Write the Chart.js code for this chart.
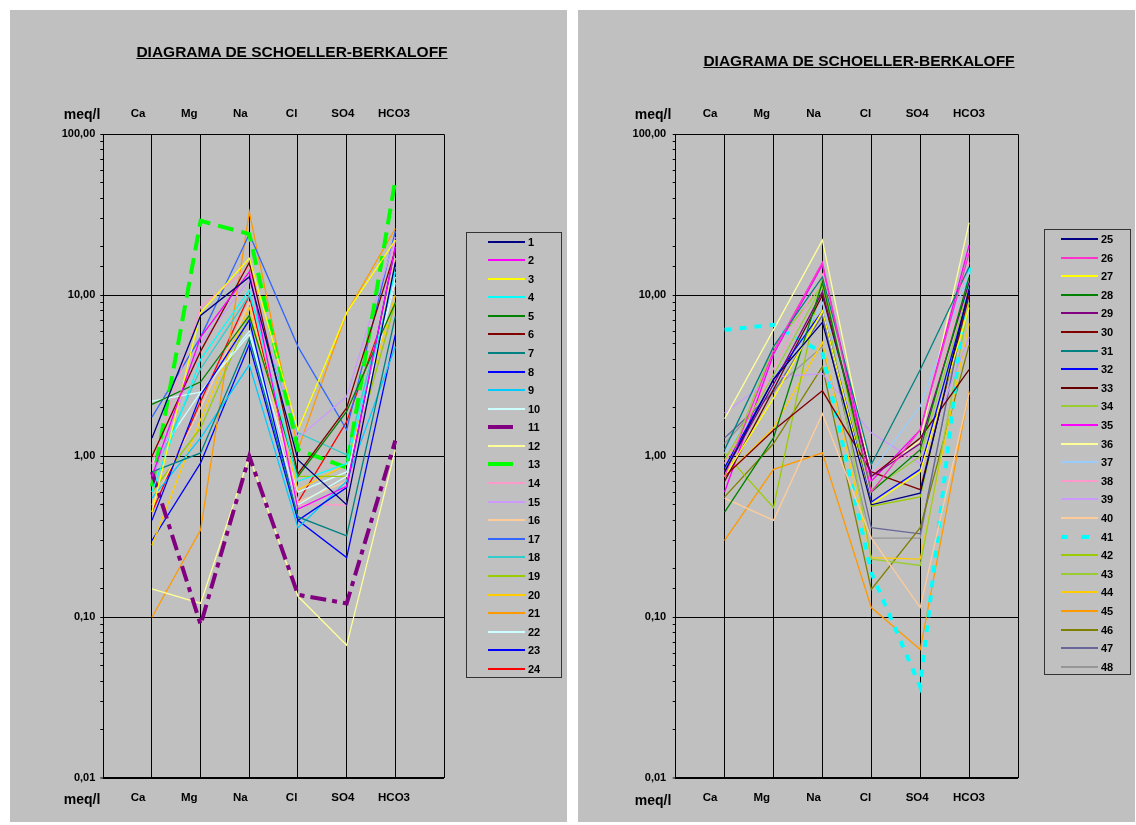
<!DOCTYPE html>
<html><head><meta charset="utf-8">
<script src="https://cdn.jsdelivr.net/npm/chart.js@4.4.1/dist/chart.umd.min.js"></script>
<style>
body{margin:0;background:#fff;width:1136px;height:825px;position:relative;overflow:hidden;font-family:"Liberation Sans",Arial,sans-serif;color:#000;}
.panel{position:absolute;background:#c0c0c0;}
canvas{position:absolute;}
.title{position:absolute;font-weight:bold;font-size:15.5px;line-height:18px;text-decoration:underline;white-space:nowrap;transform:translate(-50%,-50%);}
.unit{position:absolute;font-weight:bold;font-size:14px;line-height:14px;white-space:nowrap;transform:translate(-50%,-50%);}
.legend{position:absolute;border:1px solid #333;box-sizing:border-box;}
.lg-line{position:absolute;}
.lg-text{position:absolute;font-weight:bold;font-size:11px;line-height:12px;transform:translateY(-50%);}
</style>
</head><body>
<div class="panel" style="left:10px;top:10px;width:557px;height:812px;"></div>
<div class="panel" style="left:578px;top:10px;width:557px;height:812px;"></div>
<canvas id="cL" width="557" height="812" style="left:10px;top:10px;"></canvas>
<canvas id="cR" width="556" height="812" style="left:578px;top:10px;"></canvas>
<div class="title" style="left:292px;top:52px;">DIAGRAMA DE SCHOELLER-BERKALOFF</div>
<div class="title" style="left:859px;top:61px;">DIAGRAMA DE SCHOELLER-BERKALOFF</div>
<div class="unit" style="left:82px;top:114px;">meq/l</div>
<div class="unit" style="left:82px;top:799px;">meq/l</div>
<div class="unit" style="left:653px;top:114px;">meq/l</div>
<div class="unit" style="left:653px;top:800px;">meq/l</div>
<div id="legL" class="legend" style="left:466px;top:232px;width:96px;height:446px;"></div>
<div id="legR" class="legend" style="left:1044px;top:229px;width:87px;height:446px;"></div>
<script>
// ---- data ----
const categories = ['Ca','Mg','Na','Cl','SO4','HCO3'];
const yTickValues = [0.01, 0.1, 1, 10, 100];

const leftNames = ['1','2','3','4','5','6','7','8','9','10','11','12','13','14','15','16','17','18','19','20','21','22','23','24'];
const leftValues = [
  [1.3, 7.5, 13, 0.95, 0.5, 16],
  [0.75, 5.5, 14, 0.47, 0.65, 20],
  [0.45, 7.8, 17, 1.45, 7.8, 22],
  [0.6, 4.0, 10.8, 0.7, 0.9, 14],
  [2.1, 2.9, 7.5, 0.75, 1.9, 9],
  [1.0, 4.5, 16, 0.78, 2.0, 19],
  [0.8, 1.05, 5.4, 0.42, 0.32, 7.4],
  [0.4, 2.4, 7.0, 0.4, 0.64, 20],
  [0.55, 1.3, 3.7, 0.36, 0.7, 4.8],
  [2.2, 2.5, 5.7, 0.5, 0.75, 13],
  [0.8, 0.09, 1.0, 0.138, 0.122, 1.25],
  [0.15, 0.122, 1.0, 0.135, 0.067, 1.1],
  [0.65, 29, 24, 1.1, 0.85, 52],
  [0.9, 8.5, 15, 0.5, 0.5, 22],
  [0.7, 5.0, 12.5, 1.3, 2.35, 23],
  [0.5, 2.0, 9, 0.52, 0.7, 17],
  [1.75, 5.5, 24, 4.8, 1.46, 25],
  [0.75, 3.5, 10, 1.4, 1.02, 15],
  [0.6, 1.5, 7.4, 0.75, 0.75, 9],
  [0.28, 1.7, 8.4, 0.62, 0.89, 10],
  [0.1, 0.35, 33, 1.1, 7.8, 26],
  [0.9, 2.5, 6.0, 0.6, 0.8, 12],
  [0.3, 0.91, 4.95, 0.4, 0.235, 5.7],
  [0.45, 2.2, 10, 0.52, 1.64, 11.6]
];

const rightNames = ['25','26','27','28','29','30','31','32','33','34','35','36','37','38','39','40','41','42','43','44','45','46','47','48'];
const rightValues = [
  [0.8, 3.0, 6.8, 0.5, 0.59, 11],
  [0.75, 4.5, 16, 0.6, 1.46, 18.3],
  [0.75, 2.3, 8, 0.5, 0.8, 8.4],
  [0.45, 1.3, 12, 0.6, 1.1, 13],
  [0.8, 2.8, 10.5, 0.75, 1.2, 12],
  [0.75, 1.45, 2.55, 0.8, 0.62, 10],
  [1.1, 4.8, 13, 0.89, 3.45, 15],
  [0.85, 3.0, 8, 0.52, 0.83, 10.5],
  [0.7, 2.6, 10, 0.75, 1.3, 3.45],
  [0.95, 3.2, 11.5, 0.62, 1.0, 11],
  [0.6, 4.3, 15.5, 0.7, 1.46, 20.5],
  [1.71, 6.1, 22, 0.75, 1.25, 28.3],
  [1.05, 2.7, 9, 0.8, 2.04, 14],
  [0.9, 3.5, 13.5, 0.8, 1.1, 16],
  [1.86, 3.1, 3.26, 1.4, 0.9, 5.5],
  [0.55, 0.4, 1.84, 0.31, 0.115, 2.48],
  [6.1, 6.55, 4.4, 0.19, 0.037, 15],
  [1.05, 0.48, 13, 0.49, 0.56, 12],
  [0.8, 4.8, 11.5, 0.23, 0.21, 9],
  [0.75, 1.5, 5.1, 0.235, 0.23, 6.7],
  [0.3, 0.83, 1.05, 0.115, 0.063, 2.53],
  [0.56, 1.2, 3.6, 0.149, 0.36, 4.9],
  [1.3, 2.5, 7.5, 0.36, 0.33, 11],
  [1.2, 2.6, 4.8, 0.31, 0.31, 12]
];

// ---- styles ----
const leftStyles = [
  {c:'#000080'},{c:'#FF00FF'},{c:'#FFFF00'},{c:'#00FFFF'},{c:'#008000'},{c:'#800000'},
  {c:'#008080'},{c:'#0000FF'},{c:'#00CCFF'},{c:'#CCFFFF'},{c:'#800080',w:4,dash:[16,6,5,6],leg:'bar'},{c:'#FFFF99'},
  {c:'#00FF00',w:4,dash:[16,8],leg:'bar'},{c:'#FF99CC'},{c:'#CC99FF'},{c:'#FFCC99'},{c:'#3366FF'},{c:'#33CCCC'},
  {c:'#99CC00'},{c:'#FFCC00'},{c:'#FF9900'},{c:'#CCFFFF'},{c:'#0000FF'},{c:'#FF0000'}
];
const rightStyles = [
  {c:'#000080'},{c:'#FF33CC'},{c:'#FFFF00'},{c:'#008000'},{c:'#800080'},{c:'#800000'},
  {c:'#008080'},{c:'#0000FF'},{c:'#660000'},{c:'#99CC33'},{c:'#FF00FF'},{c:'#FFFF99'},
  {c:'#99CCFF'},{c:'#FF99CC'},{c:'#CC99FF'},{c:'#FFCC99'},{c:'#00FFFF',w:4,dash:[7,8],leg:'dots'},{c:'#99CC00'},
  {c:'#99CC33'},{c:'#FFCC00'},{c:'#FF9900'},{c:'#808000'},{c:'#666699'},{c:'#969696'}
];

const FONT = '"Liberation Sans", Arial, sans-serif';
function isDecade(v){ const l=Math.log10(v); return Math.abs(l-Math.round(l))<1e-6; }
function fmt(v){ return v.toFixed(2).replace('.',','); }

function makeChart(id, names, values, styles, g){
  const datasets = values.map((vals,i)=>({
    label: names[i],
    data: vals.map((v,j)=>({x:j+1, y:v})),
    borderColor: styles[i].c,
    backgroundColor: styles[i].c,
    borderWidth: styles[i].w || 1.3,
    borderDash: styles[i].dash || [],
    pointRadius: 0, fill:false, tension:0, borderCapStyle:'butt'
  }));
  const labelAxis = (pos, pad) => ({
    type:'linear', position:pos, min:g.lmin, max:g.lmax,
    afterFit: s => { s.height = 30; },
    grid:{display:false, drawTicks:false}, border:{display:false},
    ticks:{stepSize:1, autoSkip:false, includeBounds:false, maxRotation:0, padding:pad, color:'#000',
      font:{family:FONT, size:11.5, weight:'bold'},
      callback: v => Number.isInteger(v) && v>=1 && v<=6 ? categories[v-1] : ''}
  });
  return new Chart(document.getElementById(id), {
    type:'line',
    data:{datasets},
    options:{
      responsive:false, animation:false, parsing:true,
      layout:{padding:{left:0, top:94.3, right:g.padRight, bottom:13.7}},
      plugins:{legend:{display:false}, tooltip:{enabled:false}, title:{display:false}},
      scales:{
        x:{type:'linear', position:'bottom', min:0, max:7,
           afterFit: s => { s.height = 0; },
           ticks:{display:false, stepSize:1}, border:{display:false},
           grid:{color:'#000', lineWidth:1, drawTicks:false}},
        xb: labelAxis('bottom', 13),
        xt: labelAxis('top', 14),
        y:{type:'logarithmic', position:'left', min:0.01, max:100,
           afterFit: s => { s.width = g.yw; },
           border:{display:true, color:'#000', width:1},
           grid:{color: c => (c.tick && isDecade(c.tick.value)) ? '#000' : 'rgba(0,0,0,0)',
                 lineWidth: c => (c.tick && Math.abs(c.tick.value-0.01)<1e-9) ? 2 : 1,
                 tickColor:'#000', tickLength:3, tickWidth:1, drawTicks:true},
           ticks:{autoSkip:false, padding:g.ypad, color:'#000',
             font:{family:FONT, size:11, weight:'bold'},
             callback: v => yTickValues.some(t=>Math.abs(t-v)<1e-9) ? fmt(v) : ''}}
      }
    }
  });
}

makeChart('cL', leftNames, leftValues, leftStyles, {lmin:0.322, lmax:6.976, padRight:123, yw:93.3, ypad:5});
makeChart('cR', rightNames, rightValues, rightStyles, {lmin:0.338, lmax:6.946, padRight:116, yw:97.7, ypad:6.5});

function addSeg(box,x,y,w,h,c){
  const d=document.createElement('div'); d.className='lg-line';
  d.style.left=Math.round(x)+'px'; d.style.top=Math.round(y-h/2)+'px';
  d.style.width=w+'px'; d.style.height=h+'px'; d.style.background=c;
  box.appendChild(d);
}
function buildLegend(id, names, styles, g){
  const box = document.getElementById(id);
  names.forEach((n,i)=>{
    const y = g.y0 + i*g.dy;
    const st = styles[i];
    if (st.leg === 'bar'){
      addSeg(box, g.x0, y, 25, 4, st.c);
    } else if (st.leg === 'dots'){
      addSeg(box, g.x0, y, 7, 4, st.c);
      addSeg(box, g.x0+20, y, 8, 4, st.c);
    } else {
      addSeg(box, g.x0, y, 37, 2, st.c);
    }
    const t = document.createElement('div');
    t.className='lg-text'; t.textContent=n;
    t.style.left = g.tx+'px'; t.style.top = y+'px';
    box.appendChild(t);
  });
}
buildLegend('legL', leftNames, leftStyles, {x0:21, y0:8.5, dy:18.58, tx:61});
buildLegend('legR', rightNames, rightStyles, {x0:16, y0:9, dy:18.6, tx:56});
</script>
</body></html>
